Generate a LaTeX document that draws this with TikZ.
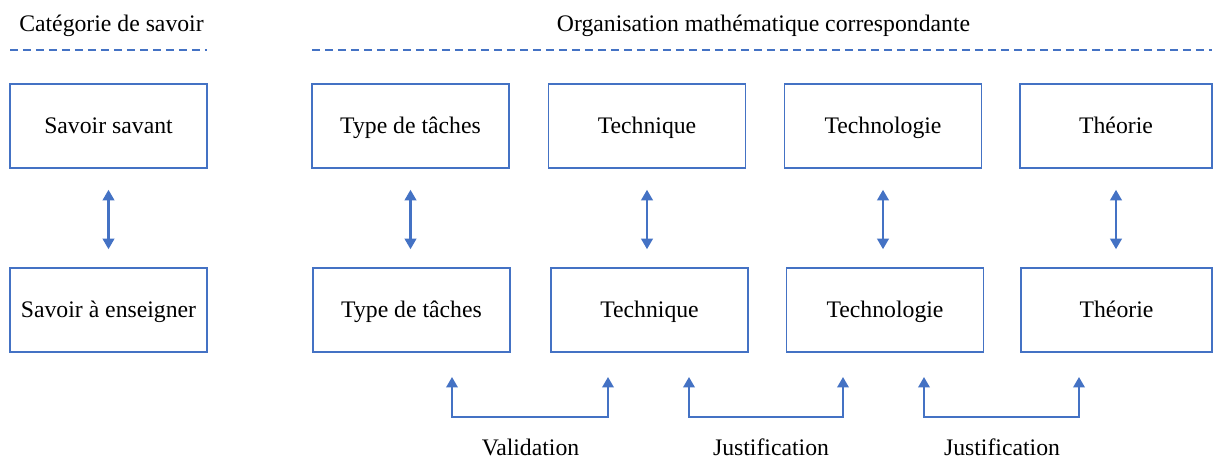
\documentclass[tikz,border=0pt]{standalone}
\usepackage{fontspec}
\setmainfont{Liberation Serif}
\usetikzlibrary{arrows.meta}
\definecolor{boxblue}{HTML}{4472C4}

\begin{document}
\begin{tikzpicture}[x=0.02cm,y=-0.02cm,
  txt/.style={font=\fontsize{13.5}{16}\selectfont,text height=12pt,text depth=3pt},
  savoir/.style={txt,draw=boxblue,line width=0.9pt,minimum width=3.94cm,minimum height=1.68cm,inner sep=0pt},
  fleche/.style={draw=boxblue,line width=1.2pt,{Triangle[length=0.21cm,width=0.23cm]}-{Triangle[length=0.21cm,width=0.23cm]}},
  tiret/.style={draw=boxblue,line width=0.9pt,dash pattern=on 0.16cm off 0.1cm}]
\useasboundingbox (0,0) rectangle (1214,459);

% Headers
\node[txt] (hcat) at (111.5,24) {Catégorie de savoir};
\node[txt] (horg) at (763.5,24) {Organisation mathématique correspondante};
\draw[tiret] (10,50) -- (207,50);
\draw[tiret] (312,50) -- (1212,50);

% Top row
\node[savoir] (st1) at (108.5,126) {Savoir savant};
\node[savoir] (st2) at (410.5,126) {Type de tâches};
\node[savoir] (st3) at (647,126) {Technique};
\node[savoir] (st4) at (883,126) {Technologie};
\node[savoir,minimum width=3.84cm] (st5) at (1116,126) {Théorie};

% Bottom row
\node[savoir] (sb1) at (108.5,310) {Savoir à enseigner};
\node[savoir] (sb2) at (411.5,310) {Type de tâches};
\node[savoir] (sb3) at (649.5,310) {Technique};
\node[savoir] (sb4) at (885,310) {Technologie};
\node[savoir,minimum width=3.82cm] (sb5) at (1116.5,310) {Théorie};

% Transposition arrows
\foreach \i in {1,...,5} {
    \draw[fleche,shorten <=0.42cm,shorten >=0.36cm] (st\i.south) -- (st\i.south |- sb\i.north);
}

% Brackets below
\coordinate (v1) at (452,377);
\coordinate (v2) at (608,377);
\coordinate (j1) at (689,377);
\coordinate (j2) at (843,377);
\coordinate (k1) at (924,377);
\coordinate (k2) at (1079,377);
\draw[fleche] (v1) -- ++(0,40) -| (v2);
\draw[fleche] (j1) -- ++(0,40) -| (j2);
\draw[fleche] (k1) -- ++(0,40) -| (k2);

\node[txt] (lval) at (530.5,448) {Validation};
\node[txt] (ljus1) at (771,448) {Justification};
\node[txt] (ljus2) at (1002,448) {Justification};
\end{tikzpicture}
\end{document}
